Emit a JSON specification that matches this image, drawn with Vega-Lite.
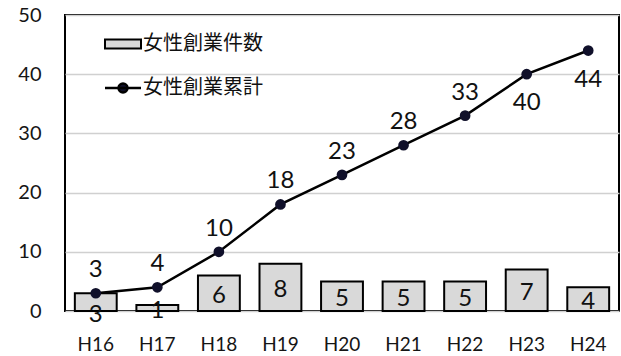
{
  "$schema": "https://vega.github.io/schema/vega-lite/v6.json",
  "width": 554,
  "height": 296,
  "autosize": {"type": "none"},
  "padding": {"left": 65, "top": 15, "right": 2, "bottom": 45},
  "background": "white",
  "config": {
    "font": "Lato, Noto Sans CJK JP",
    "view": {"stroke": "#000", "strokeWidth": 2},
    "axis": {"labelFont": "Lato", "labelColor": "#151515", "domain": false, "ticks": false, "title": null}
  },
  "data": {
    "values": [
      {"year": "H16", "count": 3, "total": 3},
      {"year": "H17", "count": 1, "total": 4},
      {"year": "H18", "count": 6, "total": 10},
      {"year": "H19", "count": 8, "total": 18},
      {"year": "H20", "count": 5, "total": 23},
      {"year": "H21", "count": 5, "total": 28},
      {"year": "H22", "count": 5, "total": 33},
      {"year": "H23", "count": 7, "total": 40},
      {"year": "H24", "count": 4, "total": 44}
    ]
  },
  "encoding": {
    "x": {
      "field": "year",
      "type": "ordinal",
      "scale": {"paddingInner": 0.32, "paddingOuter": 0.16},
      "axis": {"labelAngle": 0, "labelFontSize": 19, "labelPadding": 24, "grid": false}
    }
  },
  "layer": [
    {
      "mark": {"type": "bar", "stroke": "#000", "strokeWidth": 2},
      "encoding": {
        "y": {
          "field": "count",
          "type": "quantitative",
          "scale": {"domain": [0, 50]},
          "axis": {
            "values": [0, 10, 20, 30, 40, 50],
            "labelFontSize": 20,
            "labelPadding": 24,
            "gridColor": "#d0d0d0",
            "gridWidth": 1.5
          }
        },
        "fill": {
          "datum": "女性創業件数",
          "type": "nominal",
          "scale": {"domain": ["女性創業件数", "女性創業累計"], "range": ["#d9d9d9", "#10102a"]},
          "legend": {
            "orient": "none",
            "legendX": 48,
            "legendY": 19,
            "title": null,
            "padding": 0,
            "symbolSize": 1296,
            "symbolStrokeColor": "#000",
            "symbolStrokeWidth": 2,
            "labelFontSize": 20,
            "labelFont": "Noto Sans CJK JP",
            "labelColor": "#111",
            "labelOffset": 10,
            "rowPadding": 24,
            "encode": {
              "symbols": {
                "update": {
                  "shape": {"signal": "datum.value === '女性創業件数' ? 'M-1,-0.25H1V0.25H-1Z' : 'M-1,0H1M-0.25,0A0.25,0.25 0 1,1 0.25,0A0.25,0.25 0 1,1 -0.25,0Z'"},
                  "strokeWidth": {"signal": "datum.value === '女性創業件数' ? 2 : 2.5"}
                }
              }
            }
          }
        }
      }
    },
    {
      "transform": [{"filter": "datum.year !== 'H16'"}],
      "mark": {"type": "text", "fontSize": 24, "baseline": "middle", "dy": 3, "color": "#111"},
      "encoding": {
        "y": {"field": "count", "type": "quantitative", "scale": {"domain": [0, 100]}, "axis": null},
        "text": {"field": "count", "type": "quantitative"}
      }
    },
    {
      "transform": [{"filter": "datum.year === 'H16'"}],
      "mark": {"type": "text", "fontSize": 24, "baseline": "middle", "dy": 13, "color": "#111"},
      "encoding": {
        "y": {"field": "count", "type": "quantitative", "scale": {"domain": [0, 100]}, "axis": null},
        "text": {"field": "count", "type": "quantitative"}
      }
    },
    {
      "mark": {"type": "line", "color": "#000", "strokeWidth": 2.5},
      "encoding": {
        "y": {"field": "total", "type": "quantitative", "scale": {"domain": [0, 50]}, "axis": null}
      }
    },
    {
      "mark": {"type": "point", "filled": true, "size": 115, "opacity": 1},
      "encoding": {
        "y": {"field": "total", "type": "quantitative", "scale": {"domain": [0, 50]}, "axis": null},
        "fill": {"datum": "女性創業累計", "type": "nominal"}
      }
    },
    {
      "transform": [{"filter": "datum.total < 40"}],
      "mark": {"type": "text", "fontSize": 24, "baseline": "middle", "dy": -23, "color": "#111"},
      "encoding": {
        "y": {"field": "total", "type": "quantitative", "scale": {"domain": [0, 50]}, "axis": null},
        "text": {"field": "total", "type": "quantitative"}
      }
    },
    {
      "transform": [{"filter": "datum.total >= 40"}],
      "mark": {"type": "text", "fontSize": 24, "baseline": "middle", "dy": 29, "color": "#111"},
      "encoding": {
        "y": {"field": "total", "type": "quantitative", "scale": {"domain": [0, 50]}, "axis": null},
        "text": {"field": "total", "type": "quantitative"}
      }
    }
  ],
  "resolve": {"scale": {"y": "independent"}}
}
